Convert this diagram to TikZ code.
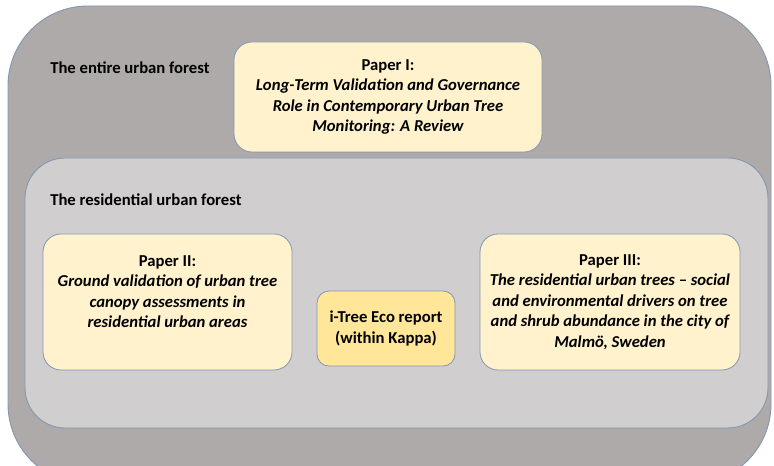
\documentclass[tikz,border=0pt]{standalone}
\usepackage{fontspec}
\setmainfont{Carlito}
\usetikzlibrary{positioning}
\definecolor{forestgray}{HTML}{AEAAAA}
\definecolor{residgray}{HTML}{D0CECE}
\definecolor{paperyellow}{HTML}{FFF2CC}
\definecolor{ecoyellow}{HTML}{FFE699}
\definecolor{edgeblue}{HTML}{8397B0}

\begin{document}
\begin{tikzpicture}[x=0.75pt,y=0.75pt,node distance=1cm,
  area/.style={draw=edgeblue,line width=0.7pt,inner sep=0pt,outer sep=0pt},
  paper/.style={rectangle,rounded corners=13.5pt,draw=edgeblue,line width=0.6pt,fill=paperyellow,inner sep=0pt,outer sep=0pt,align=center,font=\fontsize{12.5}{15.4}\selectfont\bfseries},
  tag/.style={anchor=west,inner sep=0pt,font=\fontsize{12.5}{15.4}\selectfont\bfseries}]
            \clip (0,0) rectangle (774,466);
            \useasboundingbox (0,0) rectangle (774,466);

            \node[area, fill = forestgray, rounded corners = 60pt, minimum width = 572.25pt, minimum height = 358.5pt] (0) at (389.5,221){};
            \node[tag] (1) at (50,398){The entire urban forest};
            \node[paper, minimum width = 231pt, minimum height = 82.5pt] (2) at (388,369){Paper I:\\ \itshape Long-Term Validation and Governance\\ \itshape Role in Contemporary Urban Tree\\ \itshape Monitoring: A Review};

            \node[area, fill = residgray, rounded corners = 30pt, minimum width = 557.25pt, minimum height = 202.5pt] (3) at (396.5,173){};
            \node[tag] (4) at (50,266){The residential urban forest};

            \node[paper, minimum width = 186.75pt, minimum height = 102pt] (5) at (167.5,164){Paper II:\\ \itshape Ground validation of urban tree\\ \itshape canopy assessments in\\ \itshape residential urban areas\\ \mbox{}};
            \node[paper, fill = ecoyellow, rounded corners = 9pt, minimum width = 103.5pt, minimum height = 56.25pt] (6) [right = 18.75pt of 5, yshift = -19.9pt]{i-Tree Eco report\\ (within Kappa)};
            \node[paper, minimum width = 195pt, minimum height = 102pt] (7) [right = 141pt of 5]{Paper III:\\ \itshape The residential urban trees -- social\\ \itshape and environmental drivers on tree\\ \itshape and shrub abundance in the city of\\ \itshape Malmö, Sweden};
        \end{tikzpicture}
\end{document}
